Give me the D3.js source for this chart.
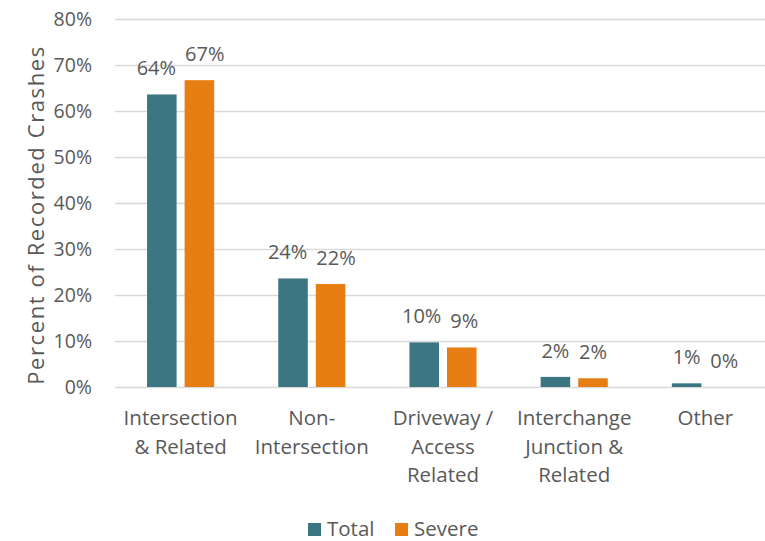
<!DOCTYPE html>
<html>
<head>
<meta charset="utf-8">
<script src="https://cdn.jsdelivr.net/npm/d3@7"></script>
<style>
  html, body { margin: 0; padding: 0; background: #ffffff; }
  svg { display: block; }
  text { font-family: "Open Sans", sans-serif; fill: #595959; }
</style>
</head>
<body>
<svg id="chart" width="765" height="541"></svg>
<script>
// ---- data ----
const categories = [
  ["Intersection", "& Related"],
  ["Non-", "Intersection"],
  ["Driveway /", "Access", "Related"],
  ["Interchange", "Junction &", "Related"],
  ["Other"]
];
const seriesNames = ["Total", "Severe"];
const totalValues = [63.6, 23.6, 9.7, 2.2, 0.8];
const severeValues = [66.7, 22.4, 8.6, 1.9, 0.0];
const yTickValues = [0, 10, 20, 30, 40, 50, 60, 70, 80];
const yAxisTitle = "Percent of Recorded Crashes";

// ---- setup ----
const colors = { Total: "#3B7682", Severe: "#E77E14" };
const svg = d3.select("#chart");
const plotLeft = 115, plotRight = 771, plotTop = 19, plotBottom = 387;
const catKeys = categories.map(c => c.join(" "));

const x0 = d3.scaleBand().domain(catKeys).range([plotLeft, plotRight]).padding(0);
const x1 = d3.scaleBand().domain(seriesNames).range([0, x0.bandwidth()])
  .paddingInner(0.213).paddingOuter(0.853);
const y = d3.scaleLinear().domain([0, 80]).range([plotBottom, plotTop]);

// gridlines + y axis
const yAxis = d3.axisLeft(y).tickValues(yTickValues)
  .tickFormat(d => d + "%").tickSize(-(plotRight - plotLeft)).tickPadding(23);
const gy = svg.append("g").attr("transform", `translate(${plotLeft},0)`).call(yAxis);
gy.select(".domain").remove();
gy.selectAll(".tick line").attr("stroke", "#D9D9D9").attr("stroke-width", 1.6);
gy.selectAll(".tick text").attr("font-size", 19.5).attr("fill", "#595959")
  .style("font-family", "'Open Sans', sans-serif");

// y-axis title
svg.append("text")
  .attr("transform", `translate(44,${(plotTop + plotBottom) / 2 + 12}) rotate(-90)`)
  .attr("text-anchor", "middle")
  .attr("font-size", 22)
  .attr("letter-spacing", 1.6)
  .text(yAxisTitle);

// bars
const rows = catKeys.map((k, i) => ({ key: k, vals: [
  { s: "Total", v: totalValues[i] }, { s: "Severe", v: severeValues[i] } ] }));

const groups = svg.append("g").selectAll("g").data(rows).join("g")
  .attr("transform", d => `translate(${x0(d.key)},0)`);

groups.selectAll("rect").data(d => d.vals).join("rect")
  .attr("x", d => x1(d.s))
  .attr("width", x1.bandwidth())
  .attr("y", d => y(d.v))
  .attr("height", d => y(0) - y(d.v))
  .attr("fill", d => colors[d.s]);

// data labels with simple overlap avoidance
const fsLabel = 20;
groups.each(function(d) {
  const g = d3.select(this);
  const labels = d.vals.map(o => {
    const t = g.append("text")
      .attr("text-anchor", "middle")
      .attr("font-size", fsLabel)
      .attr("y", y(o.v) - 19)
      .text(Math.round(o.v) + "%");
    return { t, cx: x1(o.s) + x1.bandwidth() / 2, w: t.node().getComputedTextLength() };
  });
  const need = (labels[0].w + labels[1].w) / 2 + 9;
  const have = labels[1].cx - labels[0].cx;
  const shift = have < need ? (need - have) / 2 : 0;
  labels[0].t.attr("x", labels[0].cx - shift);
  labels[1].t.attr("x", labels[1].cx + shift);
});

// category labels
const gx = svg.append("g");
rows.forEach((r, i) => {
  const cx = x0(r.key) + x0.bandwidth() / 2;
  const t = gx.append("text")
    .attr("text-anchor", "middle")
    .attr("font-size", 20.5)
    .attr("x", cx)
    .attr("y", 425);
  categories[i].forEach((line, j) => {
    t.append("tspan").attr("x", cx)
      .attr("dy", j === 0 ? 0 : 28.5).text(line);
  });
});

// legend
const legend = svg.append("g");
const legendX = [308, 395];
seriesNames.forEach((s, i) => {
  legend.append("rect").attr("x", legendX[i]).attr("y", 523)
    .attr("width", 13).attr("height", 13).attr("fill", colors[s]);
  legend.append("text").attr("x", legendX[i] + 19).attr("y", 536)
    .attr("font-size", 20.5).text(s);
});
</script>
</body>
</html>
